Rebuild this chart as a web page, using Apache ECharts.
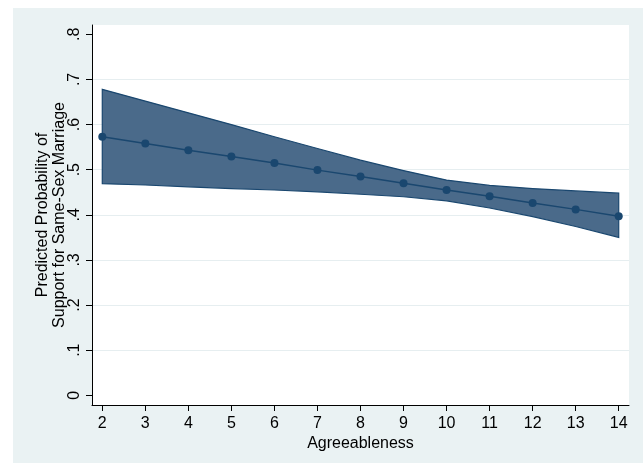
<!DOCTYPE html>
<html>
<head>
<meta charset="utf-8">
<script src="https://cdn.jsdelivr.net/npm/echarts@6/dist/echarts.min.js"></script>
<style>html,body{margin:0;padding:0;background:#fff;}#c{width:643px;height:463px;}</style>
</head>
<body>
<div id="c"></div>
<script>
const xValues = [2, 3, 4, 5, 6, 7, 8, 9, 10, 11, 12, 13, 14];
const predicted = [0.573, 0.558, 0.543, 0.529, 0.515, 0.499, 0.485, 0.470, 0.455, 0.441, 0.426, 0.412, 0.397];
const upperCI = [0.678, 0.652, 0.626, 0.600, 0.573, 0.547, 0.521, 0.498, 0.477, 0.465, 0.458, 0.453, 0.448];
const lowerCI = [0.469, 0.466, 0.462, 0.458, 0.455, 0.451, 0.4455, 0.440, 0.431, 0.415, 0.396, 0.374, 0.350];
const xTicks = [2, 3, 4, 5, 6, 7, 8, 9, 10, 11, 12, 13, 14];
const yTicks = [0, 0.1, 0.2, 0.3, 0.4, 0.5, 0.6, 0.7, 0.8];
const yGridLines = [0.1, 0.2, 0.3, 0.4, 0.5, 0.6, 0.7];
const xTitle = 'Agreeableness';
const yTitle = 'Predicted Probability of\nSupport for Same-Sex Marriage';

const navy = '#1a476f';
const font = 'Liberation Sans, Arial, Helvetica, sans-serif';

function fmtY(v) {
  if (v === 0) return '0';
  return '.' + Math.round(v * 10);
}

const chart = echarts.init(document.getElementById('c'), null, {renderer: 'canvas'});
const bandData = xValues.map((x, i) => [x, lowerCI[i], upperCI[i]]);

chart.setOption({
  animation: false,
  backgroundColor: '#ffffff',
  graphic: [{
    type: 'rect', z: -10, silent: true,
    shape: {x: 13, y: 8, width: 630, height: 455},
    style: {fill: '#eaf2f3'}
  }],
  grid: {
    left: 92, right: 14, top: 25, bottom: 58,
    show: true, backgroundColor: '#ffffff', borderWidth: 0
  },
  xAxis: {
    type: 'value', min: 1.761, max: 14.239,
    name: xTitle, nameLocation: 'middle', nameGap: 31, nameMoveOverlap: false,
    nameTextStyle: {fontFamily: font, fontSize: 16, color: '#000'},
    axisLine: {show: true, onZero: false, lineStyle: {color: '#000', width: 1}},
    axisTick: {show: true, length: 6, customValues: xTicks, lineStyle: {color: '#000'}},
    axisLabel: {customValues: xTicks, margin: 11, fontFamily: font, fontSize: 16, color: '#000'},
    splitLine: {show: false}
  },
  yAxis: {
    type: 'value', min: -0.0215, max: 0.8206,
    name: yTitle, nameLocation: 'middle', nameGap: 24, nameRotate: 90, nameMoveOverlap: false,
    nameTextStyle: {fontFamily: font, fontSize: 16, color: '#000', lineHeight: 17, align: 'center'},
    axisLine: {show: true, onZero: false, lineStyle: {color: '#000', width: 1}},
    axisTick: {show: true, length: 6, customValues: yTicks, lineStyle: {color: '#000'}},
    axisLabel: {customValues: yTicks, rotate: 90, margin: 9, fontFamily: font, fontSize: 16, color: '#000', formatter: fmtY},
    splitLine: {show: false}
  },
  series: [
    {
      type: 'line', data: [], z: 0, silent: true,
      markLine: {
        z: 0, silent: true, symbol: 'none', label: {show: false},
        lineStyle: {color: '#e6eef0', width: 1.2, type: 'solid'},
        data: yGridLines.map(v => ({yAxis: v}))
      }
    },
    {
      type: 'custom', z: 2, silent: true,
      data: bandData,
      encode: {x: 0, y: [1, 2]},
      renderItem: function (params, api) {
        if (params.dataIndex !== 0) return null;
        const pts = [];
        for (let i = 0; i < bandData.length; i++) pts.push(api.coord([bandData[i][0], bandData[i][2]]));
        for (let i = bandData.length - 1; i >= 0; i--) pts.push(api.coord([bandData[i][0], bandData[i][1]]));
        return {
          type: 'polygon',
          shape: {points: pts},
          style: {fill: '#4a6a8a', stroke: navy, lineWidth: 1.2}
        };
      }
    },
    {
      type: 'line', z: 3,
      data: xValues.map((x, i) => [x, predicted[i]]),
      symbol: 'circle', symbolSize: 8,
      lineStyle: {color: navy, width: 1.5},
      itemStyle: {color: navy}
    }
  ]
});
</script>
</body>
</html>
